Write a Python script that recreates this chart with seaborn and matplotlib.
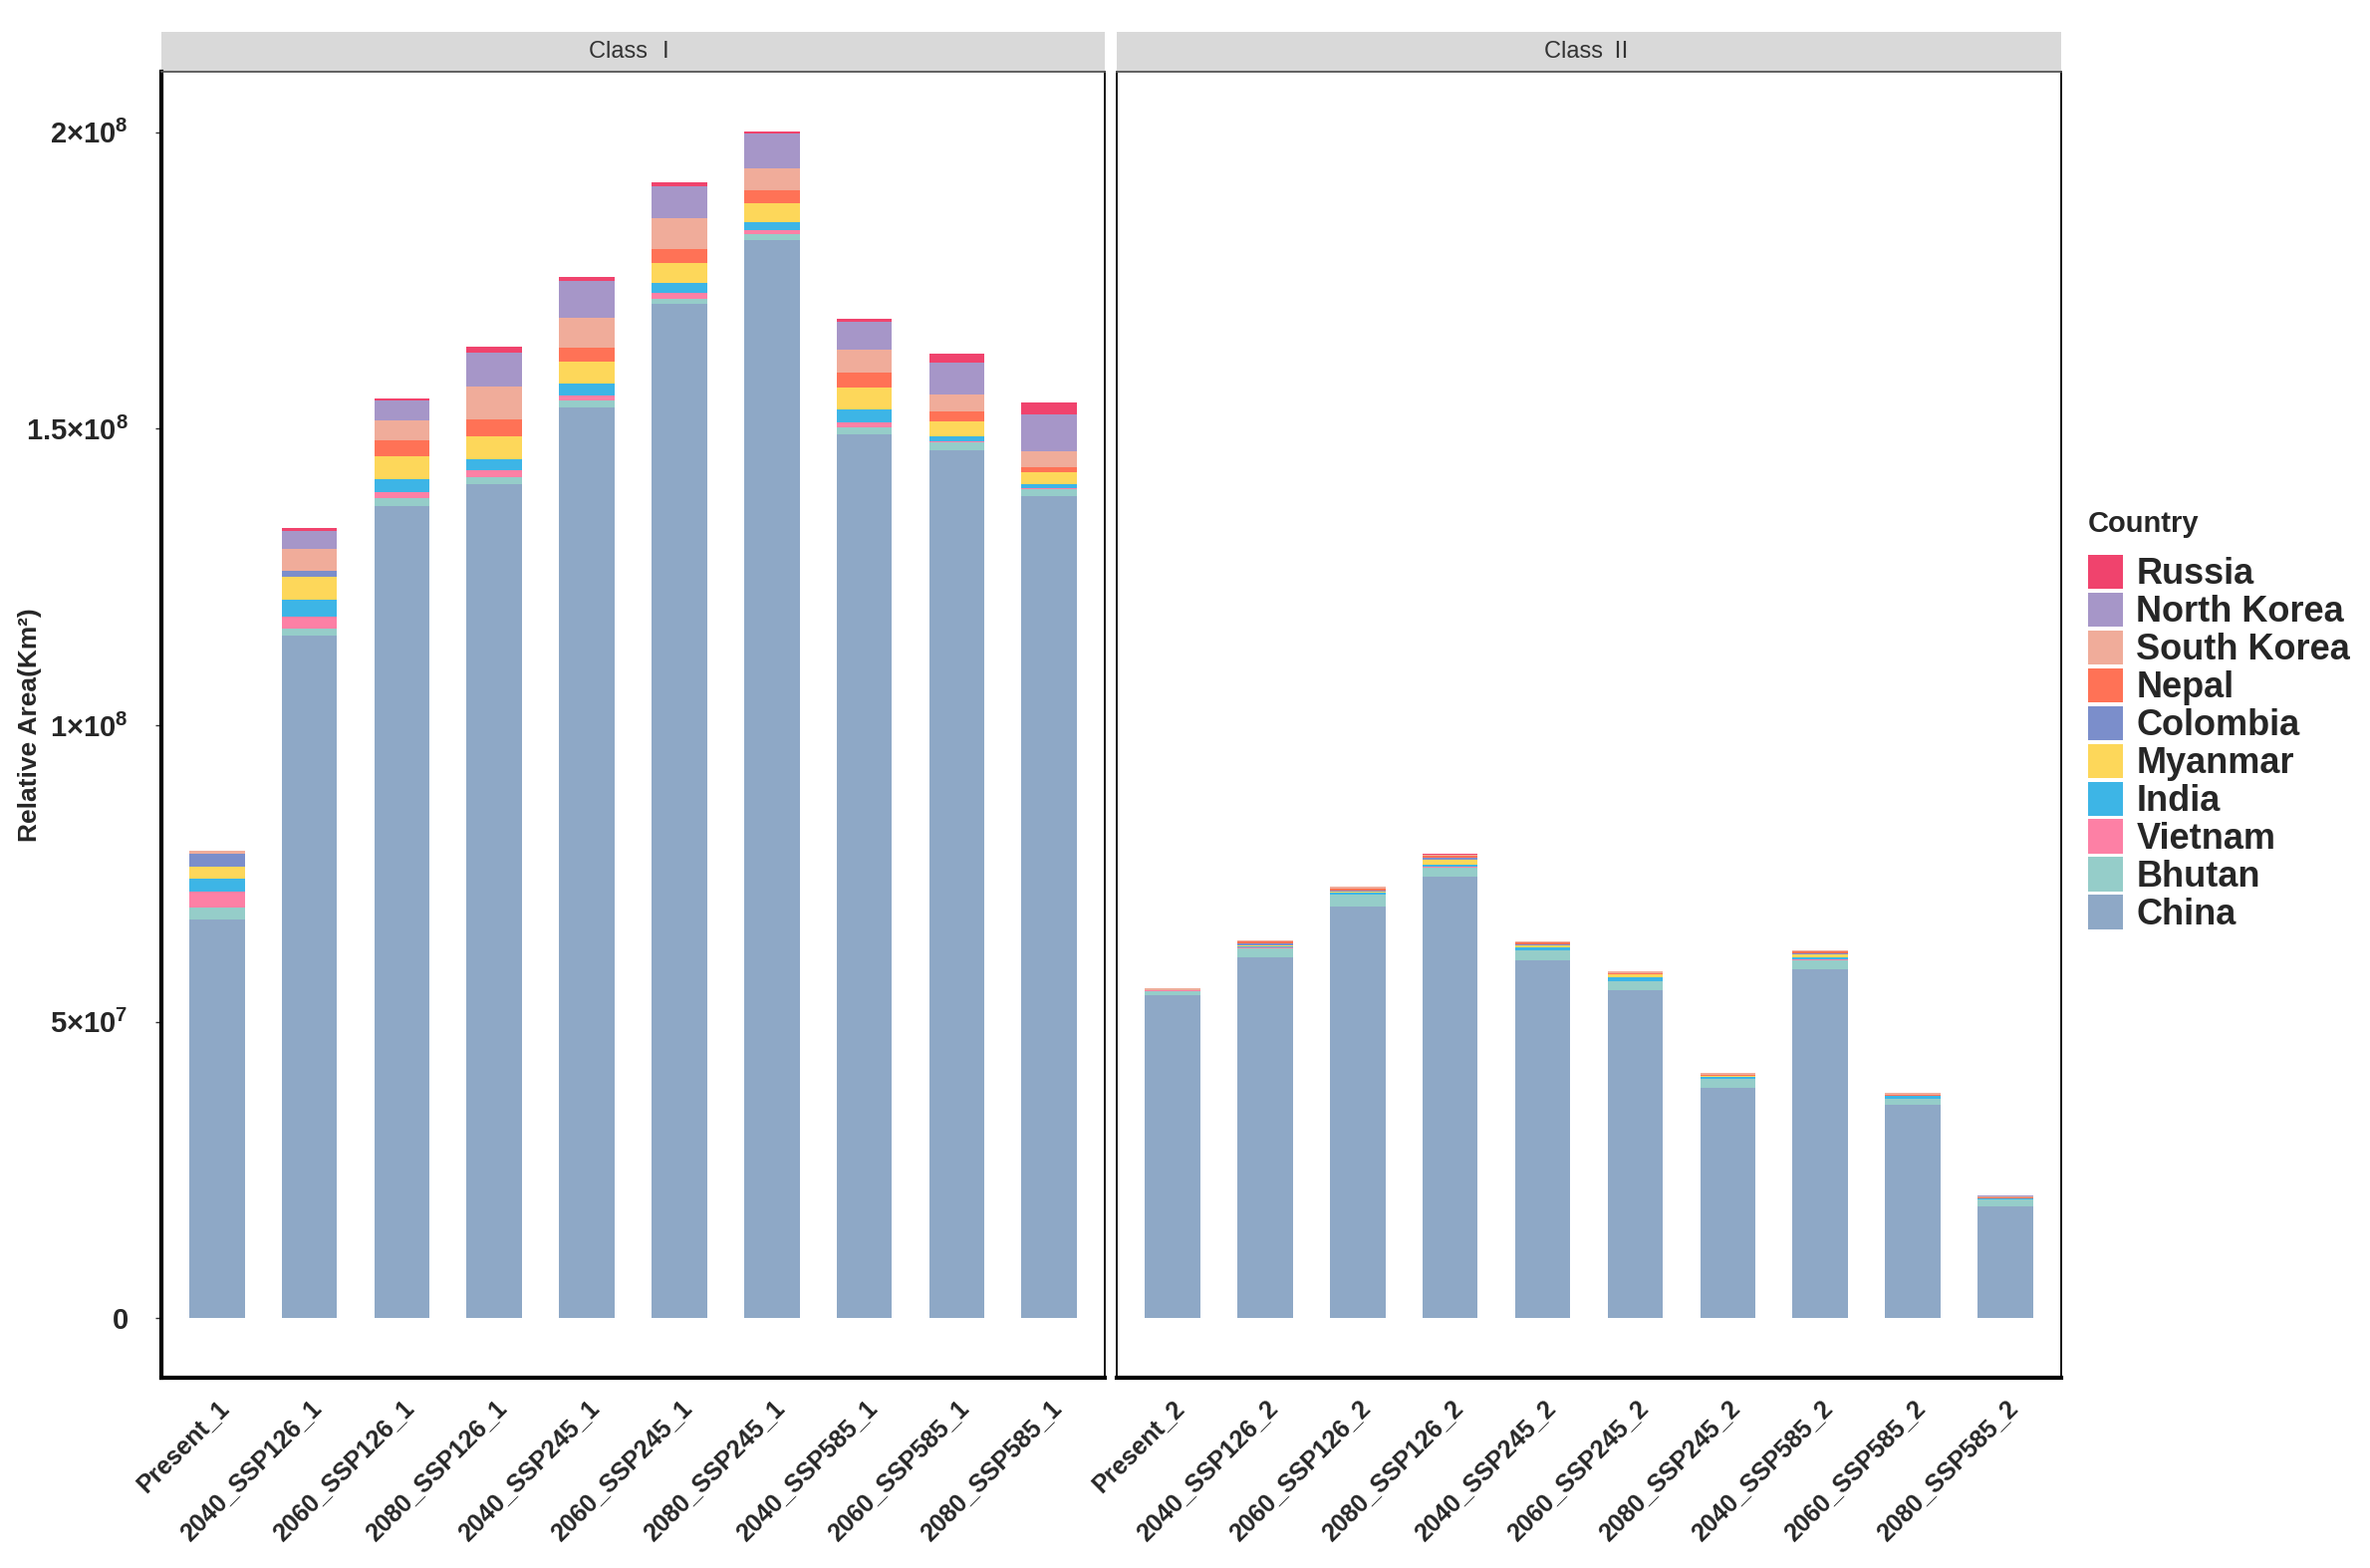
import pandas as pd
import seaborn as sns
import matplotlib.pyplot as plt
import matplotlib.transforms as mtransforms
from matplotlib.patches import Patch, Rectangle

# stacking order, bottom -> top
countries = ["China", "Bhutan", "Vietnam", "India", "Myanmar", "Colombia",
             "Nepal", "South Korea", "North Korea", "Russia"]
colors = ["#8EA8C6", "#95CDC9", "#FD80A5", "#3DB5E6", "#FDD75A", "#7B8ECB",
          "#FF7256", "#F0AC9A", "#A696C8", "#F0436D"]

labels_1 = ["Present_1", "2040_SSP126_1", "2060_SSP126_1", "2080_SSP126_1",
            "2040_SSP245_1", "2060_SSP245_1", "2080_SSP245_1",
            "2040_SSP585_1", "2060_SSP585_1", "2080_SSP585_1"]
labels_2 = ["Present_2", "2040_SSP126_2", "2060_SSP126_2", "2080_SSP126_2",
            "2040_SSP245_2", "2060_SSP245_2", "2080_SSP245_2",
            "2040_SSP585_2", "2060_SSP585_2", "2080_SSP585_2"]
panel_titles = ["Class Ⅰ", "Class Ⅱ"]

# Class I, million km2
china_1 = [67.3, 115.2, 137.0, 140.6, 153.6, 171.0, 181.9, 149.1, 146.4, 138.6]
bhutan_1 = [2.0, 1.1, 1.3, 1.3, 1.1, 0.9, 1.0, 1.1, 1.25, 1.2]
vietnam_1 = [2.6, 2.1, 1.0, 1.2, 0.9, 1.0, 0.6, 0.8, 0.25, 0.2]
india_1 = [2.2, 2.7, 2.2, 1.8, 2.0, 1.7, 1.4, 2.2, 0.8, 0.7]
myanmar_1 = [2.1, 4.0, 3.8, 3.8, 3.7, 3.3, 3.2, 3.7, 2.6, 1.9]
colombia_1 = [2.2, 1.0, 0.0, 0.0, 0.0, 0.0, 0.0, 0.0, 0.0, 0.0]
nepal_1 = [0.0, 0.0, 2.7, 2.95, 2.3, 2.4, 2.1, 2.6, 1.7, 1.0]
skorea_1 = [0.4, 3.7, 3.35, 5.55, 5.15, 5.3, 3.8, 3.9, 2.75, 2.55]
nkorea_1 = [0.0, 3.0, 3.45, 5.7, 6.25, 5.3, 5.8, 4.7, 5.45, 6.25]
russia_1 = [0.1, 0.4, 0.3, 1.0, 0.6, 0.7, 0.4, 0.5, 1.4, 2.0]

# Class II, million km2
china_2 = [54.5, 60.9, 69.5, 74.4, 60.4, 55.4, 38.9, 58.8, 35.95, 18.9]
bhutan_2 = [0.7, 1.5, 1.9, 1.6, 1.6, 1.4, 1.4, 1.6, 1.0, 1.1]
vietnam_2 = [0.1, 0.2, 0.1, 0.1, 0.1, 0.1, 0.1, 0.1, 0.1, 0.1]
india_2 = [0.0, 0.2, 0.3, 0.4, 0.5, 0.6, 0.4, 0.4, 0.4, 0.1]
myanmar_2 = [0.0, 0.1, 0.2, 0.8, 0.3, 0.5, 0.1, 0.5, 0.1, 0.0]
colombia_2 = [0.0, 0.4, 0.2, 0.3, 0.2, 0.1, 0.0, 0.1, 0.0, 0.1]
nepal_2 = [0.0, 0.2, 0.35, 0.4, 0.3, 0.1, 0.2, 0.4, 0.1, 0.1]
skorea_2 = [0.3, 0.2, 0.3, 0.1, 0.1, 0.3, 0.3, 0.1, 0.4, 0.2]
nkorea_2 = [0.0, 0.0, 0.0, 0.1, 0.0, 0.0, 0.0, 0.0, 0.0, 0.1]
russia_2 = [0.0, 0.0, 0.0, 0.1, 0.1, 0.0, 0.0, 0.0, 0.0, 0.0]

y_ticks = [0, 5e7, 1e8, 1.5e8, 2e8]
y_ticklabels = [r"$\mathbf{0}$", r"$\mathbf{5{\times}10^{7}}$", r"$\mathbf{1{\times}10^{8}}$",
                r"$\mathbf{1.5{\times}10^{8}}$", r"$\mathbf{2{\times}10^{8}}$"]

class_1 = [china_1, bhutan_1, vietnam_1, india_1, myanmar_1, colombia_1,
           nepal_1, skorea_1, nkorea_1, russia_1]
class_2 = [china_2, bhutan_2, vietnam_2, india_2, myanmar_2, colombia_2,
           nepal_2, skorea_2, nkorea_2, russia_2]

rows = []
for cls, labels, series in [(panel_titles[0], labels_1, class_1), (panel_titles[1], labels_2, class_2)]:
    for country, vals in zip(countries, series):
        for lab, v in zip(labels, vals):
            rows.append({"Class": cls, "Scenario": lab, "Country": country, "Area": v * 1e6})
df = pd.DataFrame(rows)
palette = dict(zip(countries, colors))

sns.set_theme(style="white")
plt.rcParams["font.family"] = ["Liberation Sans", "DejaVu Sans", "Noto Sans CJK SC"]
plt.rcParams["mathtext.fontset"] = "custom"
plt.rcParams["mathtext.bf"] = "Liberation Sans:bold"
plt.rcParams["mathtext.rm"] = "Liberation Sans"

W, H = 2379, 1574
fig = plt.figure(figsize=(W / 100, H / 100), dpi=100)
ax1 = fig.add_axes([162 / W, 1 - 1383 / H, 947 / W, 1311 / H])
ax2 = fig.add_axes([1121 / W, 1 - 1383 / H, 948 / W, 1311 / H])

totals = df.groupby(["Class", "Scenario"])["Area"].sum()
ymax = totals.max()
ylim = (-0.05 * ymax, 1.05 * ymax)

for ax, cls, labels in [(ax1, panel_titles[0], labels_1), (ax2, panel_titles[1], labels_2)]:
    wide = df[df["Class"] == cls].pivot(index="Scenario", columns="Country", values="Area")
    cum = wide.loc[labels, countries].cumsum(axis=1).reset_index()
    # draw cumulative totals from the top layer down so each layer shows its own slice
    for country in reversed(countries):
        sns.barplot(data=cum, x="Scenario", y=country, order=labels, color=palette[country],
                    width=0.6, saturation=1, linewidth=0, errorbar=None, ax=ax)
    ax.set_xlim(-0.6, len(labels) - 0.4)
    ax.set_ylim(*ylim)
    ax.set_xlabel("")
    ax.set_ylabel("")
    ax.set_xticks(range(len(labels)))
    ax.set_xticklabels(labels, rotation=45, ha="right", va="top", rotation_mode="anchor",
                       fontsize=18, fontweight="bold")
    offset = mtransforms.ScaledTranslation(6 / 72, 0, fig.dpi_scale_trans)
    for t in ax.get_xticklabels():
        t.set_transform(t.get_transform() + offset)
    ax.tick_params(axis="x", length=0, pad=13)
    for side in ["top", "right", "left", "bottom"]:
        ax.spines[side].set_visible(True)
        ax.spines[side].set_color("black")
        ax.spines[side].set_linewidth(1.3)
    ax.spines["bottom"].set_linewidth(3)
    ax.spines["top"].set_color("#555555")
    strip_h = 40 / 1311
    ax.add_patch(Rectangle((0, 1), 1, strip_h, transform=ax.transAxes, clip_on=False,
                           facecolor="#D9D9D9", edgecolor="none"))
    ax.text(0.5, 1 + strip_h / 2, cls, transform=ax.transAxes, ha="center", va="center",
            fontsize=17, color="#333333",
            family=["Liberation Sans", "Noto Sans CJK SC"])

ax1.spines["left"].set_linewidth(3)
ax1.set_yticks(y_ticks)
ax1.set_yticklabels(y_ticklabels, fontsize=21)
ax1.tick_params(axis="y", length=4, width=1, color="#333333", pad=20, left=True)
ax1.set_ylabel("Relative Area(Km²)", fontsize=19, fontweight="bold")
ax1.yaxis.set_label_coords(-0.127, 0.5)
ax2.set_yticks(y_ticks)
ax2.tick_params(axis="y", left=False, labelleft=False)

handles = [Patch(facecolor=palette[c], edgecolor="none", label=c) for c in reversed(countries)]
leg = fig.legend(handles=handles, title="Country", loc="upper left",
                 bbox_to_anchor=(2096 / W, 1 - 512 / H), frameon=False,
                 prop={"weight": "bold", "size": 26},
                 title_fontproperties={"weight": "bold", "size": 21},
                 alignment="left", handlelength=0.97, handleheight=1.1,
                 handletextpad=0.37, labelspacing=0.01, borderpad=0, borderaxespad=0)
leg._legend_box.sep = 12

fig.savefig("out.png", dpi=100)
